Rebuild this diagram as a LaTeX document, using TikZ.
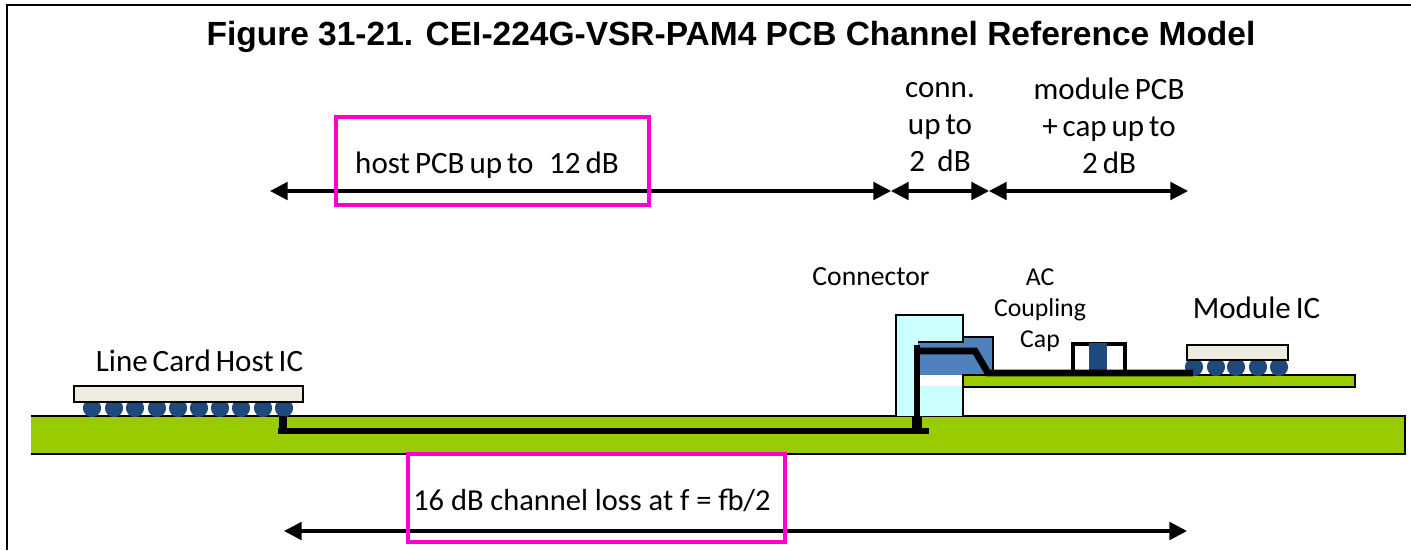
\documentclass[tikz,border=0pt]{standalone}
\usepackage{fontspec}
\usepackage{xcolor}
\usepackage{tikz}
\usetikzlibrary{arrows.meta,calc,positioning}
\setmainfont{Carlito}
\newfontfamily\titlefont{Liberation Sans}
\definecolor{boardgreen}{RGB}{153,204,0}
\definecolor{connblue}{RGB}{204,255,255}
\definecolor{padblue}{RGB}{79,129,189}
\definecolor{bumpblue}{RGB}{31,73,125}
\definecolor{diecream}{RGB}{238,236,225}
\definecolor{markpink}{RGB}{255,0,204}
\newcommand{\TightWords}{\spaceskip=0.16em\relax}
\tikzset{
  pcbedge/.style={draw=black, line width=2pt},
  die/.style={draw=black, fill=diecream, line width=2pt},
  bump/.style={circle, fill=bumpblue, minimum size=15.5pt, inner sep=0pt},
  trace/.style={line width=5.8pt},
  span/.style={{Triangle[length=15pt,width=15pt]}-{Triangle[length=15pt,width=15pt]}, line width=2.8pt},
  callout/.style={draw=markpink, line width=3.6pt},
  lbl/.style={inner sep=0pt, align=center, font=\fontsize{26.5}{31.6}\selectfont\TightWords}
}
\begin{document}
\begin{tikzpicture}[x=0.03cm,y=-0.03cm]
  \useasboundingbox (0,0) rectangle (1411,550);
  % page frame
  \draw[line width=2.4pt] (7,550) -- (7,5) -- (1411,5);
  \node[inner sep=0pt, font=\titlefont\bfseries\fontsize{28.6}{34}\selectfont] (title) at (731,37) {Figure 31-21. CEI-224G-VSR-PAM4 PCB Channel Reference Model};
  % main board
  \fill[boardgreen] (31,416) rectangle (1405,454);
  \draw[pcbedge] (31,416) -- (1405,416) -- (1405,454) -- (31,454);
  % connector
  \fill[connblue] (896,315) rectangle (963,416);
  \fill[white] (918,375) rectangle (963,386);
  \fill[padblue] (918,342) rectangle (963,375);
  \fill[padblue] (963,337) rectangle (993,375);
  \draw[pcbedge] (896,416) -- (896,315) -- (963,315) -- (963,342) -- (918,342);
  \draw[pcbedge] (963,337) -- (993,337) -- (993,375);
  \draw[pcbedge] (963,386) -- (963,416);
  % module board
  \draw[pcbedge, fill=boardgreen] (963,375) rectangle (1355,387);
  % module IC and cap
  \foreach \x in {1194,1216,1236,1258,1279}{
    \node[bump] (mb\x) at (\x,367) {};
  }
  \draw[die] (1187,345) rectangle (1288,360);
  \draw[line width=3.8pt, fill=white] (1073,344) rectangle (1125,372);
  \fill[bumpblue] (1089,343) rectangle (1107,371);
  % host IC
  \foreach \x in {92,114,135,157,178,199,220,241,263,284}{
    \node[bump] (hb\x) at (\x,408) {};
  }
  \draw[die] (74,386) rectangle (303,402);
  % trace
  \draw[trace, line width=7pt] (283,416) -- (283,431);
  \draw[trace] (278,431) -- (929,431);
  \draw[trace, line width=8.5pt] (917,416) -- (917,431);
  \draw[trace] (917,416) -- (917,345);
  \draw[trace] (917,351) -- (975,351) -- (988,373) -- (1193,373);
  % labels
  \node[lbl] (hostlbl) at (199.5,361) {Line Card Host IC};
  \node[lbl, font=\fontsize{23.6}{28}\selectfont] (connlbl) at (871,277) {Connector};
  \node[lbl, font=\fontsize{22}{26.7}\selectfont] (caplbl) at (1040,310) {AC\\Coupling\\Cap};
  \node[lbl, font=\fontsize{26.5}{30}\selectfont\TightWords] (modlbl) at (1256.5,308) {Module IC};
  \node[lbl] (pcblbl) at (487,165) {host PCB up to\hspace{0.5em}12 dB};
  \node[lbl] (conlbl) at (940,127) {conn.\\up to\\2\hspace{0.4em}dB};
  \node[lbl] (modpcb) at (1109,126) {module PCB\\+ cap up to\\2 dB};
  \node[lbl, font=\fontsize{26}{30}\selectfont] (losslbl) at (592,500) {16 dB channel loss at f = fb/2};
  % spans
  \coordinate (a0) at (270,191);
  \coordinate (a1) at (891,191);
  \coordinate (a2) at (989,191);
  \coordinate (a3) at (1188,191);
  \draw[span] (a0) -- (a1);
  \draw[span] (a1) -- (a2);
  \draw[span] (a2) -- (a3);
  \coordinate (b0) at (284,531);
  \coordinate (b1) at (1187,531);
  \draw[span] (b0) -- (b1);
  % pink boxes
  \draw[callout] (336,117) rectangle (649,205);
  \draw[callout] (408,454) rectangle (785,542);
\end{tikzpicture}
\end{document}
